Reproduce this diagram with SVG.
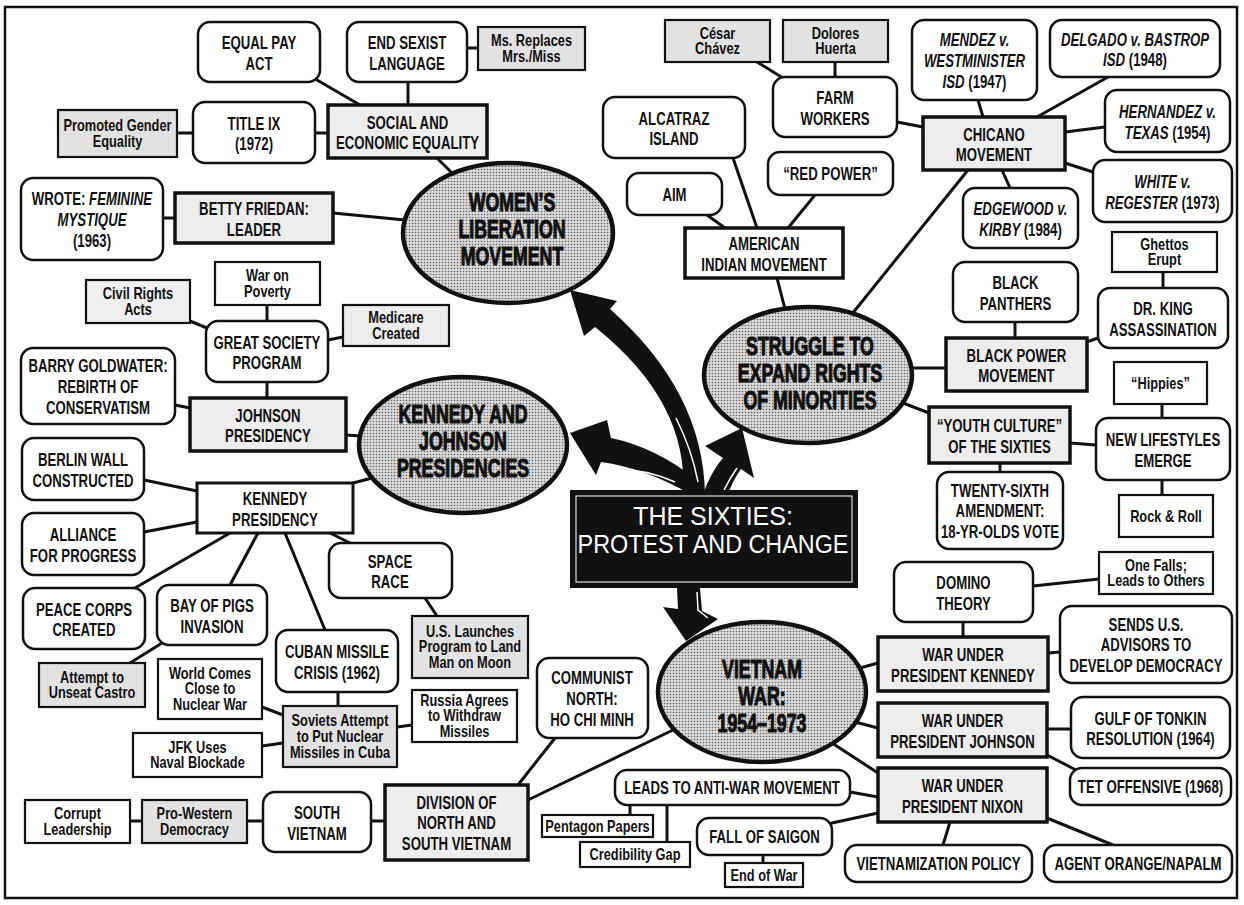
<svg xmlns="http://www.w3.org/2000/svg" width="1244" height="905" viewBox="0 0 1244 905">
<defs>
<pattern id="dots" width="3" height="3" patternUnits="userSpaceOnUse"><rect width="3" height="3" fill="#d8d8d8"/><circle cx="1.5" cy="1.5" r="0.8" fill="#666"/></pattern>
<style>
.c line{stroke:#111;stroke-width:3;stroke-linecap:round}
.rb{fill:#fff;stroke:#111;stroke-width:2.5}
.hb{fill:#ededed;stroke:#111;stroke-width:3.5}
.nb{fill:#fff;stroke:#111;stroke-width:2.2}
.ng{fill:#e2e2e2;stroke:#111;stroke-width:2.2}
.el{fill:url(#dots);stroke:#111;stroke-width:4.5}
.ar{fill:#111}
.hl{fill:none;stroke:#fff;stroke-width:1.5}
text.t{font-family:"Liberation Sans",Arial,sans-serif;font-weight:700;font-size:19px;text-anchor:middle;fill:#111}
text.s{font-size:16px}
text.e{font-size:25px;font-weight:900;stroke:#111;stroke-width:1.1}
text.w{font-weight:400;font-size:25px;fill:#fff}
.i{font-style:italic}
</style>
</defs>
<rect x="0" y="0" width="1244" height="905" fill="#fff"/>
<rect x="5" y="7" width="1232" height="891" fill="none" stroke="#111" stroke-width="2.5"/>

<g id="connectors" class="c">
<line x1="317" y1="80" x2="360" y2="105"/>
<line x1="408" y1="82" x2="408" y2="105"/>
<line x1="467" y1="48" x2="478" y2="48"/>
<line x1="177" y1="133" x2="193" y2="133"/>
<line x1="315" y1="133" x2="328" y2="133"/>
<line x1="437" y1="158" x2="455" y2="176"/>
<line x1="163" y1="218" x2="175" y2="218"/>
<line x1="333" y1="213" x2="405" y2="220"/>
<line x1="190" y1="321" x2="207" y2="328"/>
<line x1="267" y1="305" x2="267" y2="321"/>
<line x1="328" y1="340" x2="343" y2="337"/>
<line x1="267" y1="382" x2="267" y2="398"/>
<line x1="175" y1="405" x2="190" y2="408"/>
<line x1="346" y1="435" x2="361" y2="436"/>
<line x1="144" y1="480" x2="197" y2="491"/>
<line x1="144" y1="532" x2="197" y2="522"/>
<line x1="353" y1="483" x2="372" y2="478"/>
<line x1="230" y1="533" x2="135" y2="588"/>
<line x1="258" y1="533" x2="230" y2="585"/>
<line x1="285" y1="533" x2="325" y2="630"/>
<line x1="330" y1="533" x2="350" y2="543"/>
<line x1="162" y1="643" x2="130" y2="663"/>
<line x1="338" y1="692" x2="338" y2="706"/>
<line x1="262" y1="707" x2="283" y2="715"/>
<line x1="262" y1="746" x2="283" y2="743"/>
<line x1="397" y1="727" x2="412" y2="725"/>
<line x1="425" y1="598" x2="437" y2="616"/>
<line x1="130" y1="821" x2="142" y2="821"/>
<line x1="247" y1="821" x2="263" y2="821"/>
<line x1="371" y1="821" x2="385" y2="821"/>
<line x1="555" y1="738" x2="518" y2="785"/>
<line x1="528" y1="800" x2="673" y2="730"/>
<line x1="860" y1="668" x2="878" y2="663"/>
<line x1="855" y1="722" x2="878" y2="728"/>
<line x1="832" y1="743" x2="878" y2="773"/>
<line x1="963" y1="622" x2="963" y2="637"/>
<line x1="1033" y1="586" x2="1099" y2="579"/>
<line x1="1048" y1="653" x2="1060" y2="652"/>
<line x1="1047" y1="729" x2="1071" y2="729"/>
<line x1="1047" y1="755" x2="1076" y2="770"/>
<line x1="850" y1="792" x2="878" y2="797"/>
<line x1="832" y1="823" x2="878" y2="813"/>
<line x1="950" y1="822" x2="943" y2="845"/>
<line x1="1047" y1="818" x2="1113" y2="845"/>
<line x1="630" y1="805" x2="630" y2="815"/>
<line x1="667" y1="805" x2="667" y2="842"/>
<line x1="763" y1="855" x2="763" y2="863"/>
<line x1="912" y1="368" x2="946" y2="368"/>
<line x1="903" y1="403" x2="929" y2="413"/>
<line x1="1015" y1="322" x2="1015" y2="338"/>
<line x1="1087" y1="342" x2="1098" y2="338"/>
<line x1="1163" y1="272" x2="1163" y2="288"/>
<line x1="1070" y1="443" x2="1096" y2="445"/>
<line x1="1162" y1="404" x2="1162" y2="418"/>
<line x1="1162" y1="480" x2="1162" y2="495"/>
<line x1="1000" y1="463" x2="1000" y2="472"/>
<line x1="777" y1="278" x2="785" y2="309"/>
<line x1="707" y1="215" x2="725" y2="228"/>
<line x1="733" y1="158" x2="757" y2="228"/>
<line x1="815" y1="195" x2="788" y2="228"/>
<line x1="757" y1="62" x2="783" y2="78"/>
<line x1="835" y1="62" x2="835" y2="77"/>
<line x1="897" y1="122" x2="923" y2="127"/>
<line x1="978" y1="100" x2="983" y2="117"/>
<line x1="1108" y1="77" x2="1037" y2="117"/>
<line x1="1065" y1="132" x2="1105" y2="127"/>
<line x1="1065" y1="163" x2="1093" y2="172"/>
<line x1="1002" y1="170" x2="1010" y2="188"/>
<line x1="968" y1="170" x2="852" y2="314"/>
</g>

<!-- Women's section -->
<g id="equal-pay"><rect class="rb" x="198" y="22" width="122" height="60" rx="12"/><text class="t" transform="translate(259,49) scale(.695 1)"><tspan x="0">EQUAL PAY</tspan><tspan x="0" dy="21">ACT</tspan></text></g>
<g id="end-sexist"><rect class="rb" x="347" y="22" width="120" height="60" rx="12"/><text class="t" transform="translate(407,49) scale(.695 1)"><tspan x="0">END SEXIST</tspan><tspan x="0" dy="21">LANGUAGE</tspan></text></g>
<g id="ms-replaces"><rect class="ng" x="478" y="27" width="107" height="43"/><text class="t s" transform="translate(531.5,46) scale(.8 1)"><tspan x="0">Ms. Replaces</tspan><tspan x="0" dy="16">Mrs./Miss</tspan></text></g>
<g id="social-economic"><rect class="hb" x="328" y="105" width="159" height="53"/><text class="t" transform="translate(407.5,128.5) scale(.695 1)"><tspan x="0">SOCIAL AND</tspan><tspan x="0" dy="21">ECONOMIC EQUALITY</tspan></text></g>
<g id="title-ix"><rect class="rb" x="193" y="102" width="122" height="61" rx="12"/><text class="t" transform="translate(254,129.5) scale(.695 1)"><tspan x="0">TITLE IX</tspan><tspan x="0" dy="21">(1972)</tspan></text></g>
<g id="promoted-gender"><rect class="ng" x="58" y="110" width="119" height="47"/><text class="t s" transform="translate(117.5,131) scale(.8 1)"><tspan x="0">Promoted Gender</tspan><tspan x="0" dy="16">Equality</tspan></text></g>
<g id="feminine-mystique"><rect class="rb" x="21" y="178" width="142" height="82" rx="12"/><text class="t" transform="translate(92,205) scale(.695 1)"><tspan x="0">WROTE: <tspan class="i">FEMININE</tspan></tspan><tspan x="0" dy="21" class="i">MYSTIQUE</tspan><tspan x="0" dy="21">(1963)</tspan></text></g>
<g id="betty-friedan"><rect class="hb" x="175" y="193" width="158" height="50"/><text class="t" transform="translate(254,215) scale(.695 1)"><tspan x="0">BETTY FRIEDAN:</tspan><tspan x="0" dy="21">LEADER</tspan></text></g>

<!-- Kennedy & Johnson section -->
<g id="war-on-poverty"><rect class="nb" x="215" y="262" width="105" height="43"/><text class="t s" transform="translate(267.5,281) scale(.8 1)"><tspan x="0">War on</tspan><tspan x="0" dy="16">Poverty</tspan></text></g>
<g id="civil-rights"><rect class="ng" x="86" y="280" width="104" height="43" style="fill:#efefef"/><text class="t s" transform="translate(138,299) scale(.8 1)"><tspan x="0">Civil Rights</tspan><tspan x="0" dy="16">Acts</tspan></text></g>
<g id="medicare"><rect class="ng" x="343" y="305" width="106" height="41" style="fill:#ececec"/><text class="t s" transform="translate(396,323) scale(.8 1)"><tspan x="0">Medicare</tspan><tspan x="0" dy="16">Created</tspan></text></g>
<g id="great-society"><rect class="rb" x="206" y="321" width="122" height="61" rx="12"/><text class="t" transform="translate(267,348.5) scale(.695 1)"><tspan x="0">GREAT SOCIETY</tspan><tspan x="0" dy="21">PROGRAM</tspan></text></g>
<g id="goldwater"><rect class="rb" x="21" y="348" width="154" height="76" rx="12"/><text class="t" transform="translate(98,372) scale(.695 1)"><tspan x="0">BARRY GOLDWATER:</tspan><tspan x="0" dy="21">REBIRTH OF</tspan><tspan x="0" dy="21">CONSERVATISM</tspan></text></g>
<g id="johnson-presidency"><rect class="hb" x="190" y="398" width="156" height="53"/><text class="t" transform="translate(268,421.5) scale(.695 1)"><tspan x="0">JOHNSON</tspan><tspan x="0" dy="21">PRESIDENCY</tspan></text></g>
<g id="berlin-wall"><rect class="rb" x="22" y="438" width="122" height="62" rx="12"/><text class="t" transform="translate(83,466) scale(.695 1)"><tspan x="0">BERLIN WALL</tspan><tspan x="0" dy="21">CONSTRUCTED</tspan></text></g>
<g id="kennedy-presidency"><rect class="hb" x="197" y="483" width="156" height="50" style="fill:#fff;stroke-width:3"/><text class="t" transform="translate(275,505) scale(.695 1)"><tspan x="0">KENNEDY</tspan><tspan x="0" dy="21">PRESIDENCY</tspan></text></g>
<g id="alliance"><rect class="rb" x="22" y="513" width="122" height="62" rx="12"/><text class="t" transform="translate(83,541) scale(.695 1)"><tspan x="0">ALLIANCE</tspan><tspan x="0" dy="21">FOR PROGRESS</tspan></text></g>
<g id="peace-corps"><rect class="rb" x="23" y="588" width="122" height="61" rx="12"/><text class="t" transform="translate(84,615.5) scale(.695 1)"><tspan x="0">PEACE CORPS</tspan><tspan x="0" dy="21">CREATED</tspan></text></g>
<g id="bay-of-pigs"><rect class="rb" x="157" y="585" width="110" height="60" rx="12"/><text class="t" transform="translate(212,612) scale(.695 1)"><tspan x="0">BAY OF PIGS</tspan><tspan x="0" dy="21">INVASION</tspan></text></g>
<g id="space-race"><rect class="rb" x="329" y="543" width="123" height="55" rx="12"/><text class="t" transform="translate(390,567.5) scale(.695 1)"><tspan x="0">SPACE</tspan><tspan x="0" dy="21">RACE</tspan></text></g>
<g id="us-launches"><rect class="ng" x="412" y="616" width="116" height="62"/><text class="t s" transform="translate(470,636.5) scale(.8 1)"><tspan x="0">U.S. Launches</tspan><tspan x="0" dy="16">Program to Land</tspan><tspan x="0" dy="16">Man on Moon</tspan></text></g>
<g id="cuban-missile"><rect class="rb" x="276" y="630" width="122" height="62" rx="12"/><text class="t" transform="translate(337,658) scale(.695 1)"><tspan x="0">CUBAN MISSILE</tspan><tspan x="0" dy="21">CRISIS (1962)</tspan></text></g>
<g id="attempt-castro"><rect class="ng" x="39" y="663" width="106" height="44"/><text class="t s" transform="translate(92,682.5) scale(.8 1)"><tspan x="0">Attempt to</tspan><tspan x="0" dy="16">Unseat Castro</tspan></text></g>
<g id="world-comes"><rect class="nb" x="158" y="659" width="104" height="60"/><text class="t s" transform="translate(210,678.5) scale(.8 1)"><tspan x="0">World Comes</tspan><tspan x="0" dy="16">Close to</tspan><tspan x="0" dy="16">Nuclear War</tspan></text></g>
<g id="soviets-attempt"><rect class="ng" x="283" y="706" width="114" height="61"/><text class="t s" transform="translate(340,726) scale(.8 1)"><tspan x="0">Soviets Attempt</tspan><tspan x="0" dy="16">to Put Nuclear</tspan><tspan x="0" dy="16">Missiles in Cuba</tspan></text></g>
<g id="jfk-blockade"><rect class="nb" x="133" y="733" width="129" height="44"/><text class="t s" transform="translate(197.5,752.5) scale(.8 1)"><tspan x="0">JFK Uses</tspan><tspan x="0" dy="16">Naval Blockade</tspan></text></g>
<g id="russia-agrees"><rect class="nb" x="412" y="690" width="105" height="52"/><text class="t s" transform="translate(464.5,705.5) scale(.8 1)"><tspan x="0">Russia Agrees</tspan><tspan x="0" dy="16">to Withdraw</tspan><tspan x="0" dy="16">Missiles</tspan></text></g>

<!-- Vietnam left -->
<g id="corrupt"><rect class="nb" x="25" y="800" width="105" height="43"/><text class="t s" transform="translate(77.5,819) scale(.8 1)"><tspan x="0">Corrupt</tspan><tspan x="0" dy="16">Leadership</tspan></text></g>
<g id="pro-western"><rect class="ng" x="142" y="800" width="105" height="43"/><text class="t s" transform="translate(194.5,819) scale(.8 1)"><tspan x="0">Pro-Western</tspan><tspan x="0" dy="16">Democracy</tspan></text></g>
<g id="south-vietnam"><rect class="rb" x="263" y="792" width="108" height="60" rx="12"/><text class="t" transform="translate(317,819) scale(.695 1)"><tspan x="0">SOUTH</tspan><tspan x="0" dy="21">VIETNAM</tspan></text></g>
<g id="division"><rect class="hb" x="385" y="785" width="143" height="75"/><text class="t" transform="translate(456.5,808.5) scale(.695 1)"><tspan x="0">DIVISION OF</tspan><tspan x="0" dy="21">NORTH AND</tspan><tspan x="0" dy="21">SOUTH VIETNAM</tspan></text></g>
<g id="communist-north"><rect class="rb" x="537" y="658" width="111" height="80" rx="12"/><text class="t" transform="translate(592,684) scale(.695 1)"><tspan x="0">COMMUNIST</tspan><tspan x="0" dy="21">NORTH:</tspan><tspan x="0" dy="21">HO CHI MINH</tspan></text></g>
<g id="anti-war"><rect class="rb" x="615" y="770" width="235" height="35" rx="12"/><text class="t" transform="translate(732,794) scale(.695 1)">LEADS TO ANTI-WAR MOVEMENT</text></g>
<g id="pentagon"><rect class="nb" x="542" y="815" width="111" height="22"/><text class="t s" transform="translate(597.5,831.5) scale(.8 1)">Pentagon Papers</text></g>
<g id="credibility"><rect class="nb" x="580" y="842" width="110" height="25"/><text class="t s" transform="translate(635,860) scale(.8 1)">Credibility Gap</text></g>
<g id="fall-saigon"><rect class="rb" x="697" y="818" width="135" height="37" rx="12"/><text class="t" transform="translate(764.5,843) scale(.695 1)">FALL OF SAIGON</text></g>
<g id="end-of-war"><rect class="nb" x="725" y="863" width="78" height="24"/><text class="t s" transform="translate(764,880.5) scale(.8 1)">End of War</text></g>

<!-- Minorities section -->
<g id="cesar"><rect class="ng" x="665" y="20" width="105" height="42"/><text class="t s" transform="translate(717.5,38.5) scale(.8 1)"><tspan x="0">César</tspan><tspan x="0" dy="16">Chávez</tspan></text></g>
<g id="dolores"><rect class="ng" x="783" y="20" width="105" height="42"/><text class="t s" transform="translate(835.5,38.5) scale(.8 1)"><tspan x="0">Dolores</tspan><tspan x="0" dy="16">Huerta</tspan></text></g>
<g id="farm-workers"><rect class="rb" x="773" y="77" width="124" height="60" rx="12"/><text class="t" transform="translate(835,104) scale(.695 1)"><tspan x="0">FARM</tspan><tspan x="0" dy="21">WORKERS</tspan></text></g>
<g id="alcatraz"><rect class="rb" x="603" y="97" width="142" height="61" rx="12"/><text class="t" transform="translate(674,124.5) scale(.695 1)"><tspan x="0">ALCATRAZ</tspan><tspan x="0" dy="21">ISLAND</tspan></text></g>
<g id="aim"><rect class="rb" x="627" y="173" width="95" height="42" rx="12"/><text class="t" transform="translate(674.5,200.5) scale(.695 1)">AIM</text></g>
<g id="red-power"><rect class="rb" x="768" y="152" width="125" height="43" rx="12"/><text class="t" transform="translate(830.5,180) scale(.695 1)">“RED POWER”</text></g>
<g id="american-indian"><rect class="hb" x="685" y="228" width="158" height="50" style="fill:#fff"/><text class="t" transform="translate(764,250) scale(.695 1)"><tspan x="0">AMERICAN</tspan><tspan x="0" dy="21">INDIAN MOVEMENT</tspan></text></g>
<g id="mendez"><rect class="rb" x="912" y="20" width="125" height="80" rx="12"/><text class="t i" transform="translate(974.5,46) scale(.695 1)"><tspan x="0">MENDEZ v.</tspan><tspan x="0" dy="21">WESTMINISTER</tspan><tspan x="0" dy="21">ISD <tspan style="font-style:normal">(1947)</tspan></tspan></text></g>
<g id="delgado"><rect class="rb" x="1050" y="20" width="170" height="57" rx="12"/><text class="t i" transform="translate(1135,45.5) scale(.695 1)"><tspan x="0">DELGADO v. BASTROP</tspan><tspan x="0" dy="21">ISD <tspan style="font-style:normal">(1948)</tspan></tspan></text></g>
<g id="chicano"><rect class="hb" x="923" y="117" width="142" height="53"/><text class="t" transform="translate(994,140.5) scale(.695 1)"><tspan x="0">CHICANO</tspan><tspan x="0" dy="21">MOVEMENT</tspan></text></g>
<g id="hernandez"><rect class="rb" x="1105" y="90" width="125" height="62" rx="12"/><text class="t i" transform="translate(1167.5,118) scale(.695 1)"><tspan x="0">HERNANDEZ v.</tspan><tspan x="0" dy="21">TEXAS <tspan style="font-style:normal">(1954)</tspan></tspan></text></g>
<g id="white-regester"><rect class="rb" x="1093" y="160" width="139" height="62" rx="12"/><text class="t i" transform="translate(1162.5,188) scale(.695 1)"><tspan x="0">WHITE v.</tspan><tspan x="0" dy="21">REGESTER <tspan style="font-style:normal">(1973)</tspan></tspan></text></g>
<g id="edgewood"><rect class="rb" x="963" y="188" width="115" height="60" rx="12"/><text class="t i" transform="translate(1020.5,215) scale(.695 1)"><tspan x="0">EDGEWOOD v.</tspan><tspan x="0" dy="21">KIRBY <tspan style="font-style:normal">(1984)</tspan></tspan></text></g>
<g id="ghettos"><rect class="nb" x="1112" y="232" width="105" height="40"/><text class="t s" transform="translate(1164.5,249.5) scale(.8 1)"><tspan x="0">Ghettos</tspan><tspan x="0" dy="16">Erupt</tspan></text></g>
<g id="black-panthers"><rect class="rb" x="953" y="262" width="125" height="60" rx="12"/><text class="t" transform="translate(1015.5,289) scale(.695 1)"><tspan x="0">BLACK</tspan><tspan x="0" dy="21">PANTHERS</tspan></text></g>
<g id="dr-king"><rect class="rb" x="1098" y="288" width="130" height="60" rx="12"/><text class="t" transform="translate(1163,315) scale(.695 1)"><tspan x="0">DR. KING</tspan><tspan x="0" dy="21">ASSASSINATION</tspan></text></g>
<g id="black-power"><rect class="hb" x="946" y="338" width="141" height="53"/><text class="t" transform="translate(1016.5,361.5) scale(.695 1)"><tspan x="0">BLACK POWER</tspan><tspan x="0" dy="21">MOVEMENT</tspan></text></g>
<g id="hippies"><rect class="nb" x="1114" y="362" width="93" height="42"/><text class="t s" transform="translate(1160.5,388.5) scale(.8 1)">“Hippies”</text></g>
<g id="youth-culture"><rect class="hb" x="929" y="407" width="141" height="56"/><text class="t" transform="translate(999.5,432) scale(.695 1)"><tspan x="0">“YOUTH CULTURE”</tspan><tspan x="0" dy="21">OF THE SIXTIES</tspan></text></g>
<g id="new-lifestyles"><rect class="rb" x="1096" y="418" width="134" height="62" rx="12"/><text class="t" transform="translate(1163,446) scale(.695 1)"><tspan x="0">NEW LIFESTYLES</tspan><tspan x="0" dy="21">EMERGE</tspan></text></g>
<g id="twenty-sixth"><rect class="rb" x="937" y="472" width="126" height="77" rx="12"/><text class="t" transform="translate(1000,496.5) scale(.695 1)"><tspan x="0">TWENTY-SIXTH</tspan><tspan x="0" dy="21">AMENDMENT:</tspan><tspan x="0" dy="21">18-YR-OLDS VOTE</tspan></text></g>
<g id="rock-roll"><rect class="nb" x="1119" y="495" width="94" height="42"/><text class="t s" transform="translate(1166,521.5) scale(.8 1)">Rock &amp; Roll</text></g>

<!-- Vietnam right -->
<g id="one-falls"><rect class="nb" x="1099" y="552" width="114" height="42"/><text class="t s" transform="translate(1156,570.5) scale(.8 1)"><tspan x="0">One Falls;</tspan><tspan x="0" dy="16">Leads to Others</tspan></text></g>
<g id="domino"><rect class="rb" x="894" y="562" width="139" height="60" rx="12"/><text class="t" transform="translate(963.5,589) scale(.695 1)"><tspan x="0">DOMINO</tspan><tspan x="0" dy="21">THEORY</tspan></text></g>
<g id="sends-advisors"><rect class="rb" x="1060" y="606" width="172" height="77" rx="12"/><text class="t" transform="translate(1146,630.5) scale(.695 1)"><tspan x="0">SENDS U.S.</tspan><tspan x="0" dy="21">ADVISORS TO</tspan><tspan x="0" dy="21">DEVELOP DEMOCRACY</tspan></text></g>
<g id="war-kennedy"><rect class="hb" x="878" y="637" width="170" height="54"/><text class="t" transform="translate(963,661) scale(.695 1)"><tspan x="0">WAR UNDER</tspan><tspan x="0" dy="21">PRESIDENT KENNEDY</tspan></text></g>
<g id="war-johnson"><rect class="hb" x="878" y="703" width="169" height="54"/><text class="t" transform="translate(962.5,727) scale(.695 1)"><tspan x="0">WAR UNDER</tspan><tspan x="0" dy="21">PRESIDENT JOHNSON</tspan></text></g>
<g id="gulf-tonkin"><rect class="rb" x="1071" y="697" width="159" height="61" rx="12"/><text class="t" transform="translate(1150.5,724.5) scale(.695 1)"><tspan x="0">GULF OF TONKIN</tspan><tspan x="0" dy="21">RESOLUTION (1964)</tspan></text></g>
<g id="tet"><rect class="rb" x="1070" y="768" width="161" height="37" rx="12"/><text class="t" transform="translate(1150.5,793) scale(.695 1)">TET OFFENSIVE (1968)</text></g>
<g id="war-nixon"><rect class="hb" x="878" y="768" width="169" height="54"/><text class="t" transform="translate(962.5,792) scale(.695 1)"><tspan x="0">WAR UNDER</tspan><tspan x="0" dy="21">PRESIDENT NIXON</tspan></text></g>
<g id="vietnamization"><rect class="rb" x="845" y="845" width="187" height="37" rx="12"/><text class="t" transform="translate(938.5,870) scale(.695 1)">VIETNAMIZATION POLICY</text></g>
<g id="agent-orange"><rect class="rb" x="1044" y="845" width="188" height="37" rx="12"/><text class="t" transform="translate(1138,870) scale(.695 1)">AGENT ORANGE/NAPALM</text></g>

<!-- main topic ellipses -->
<g id="womens-liberation"><ellipse class="el" cx="508" cy="233" rx="105" ry="70"/><text class="t e" transform="translate(512,211) scale(.71 1)"><tspan x="0">WOMEN’S</tspan><tspan x="0" dy="27">LIBERATION</tspan><tspan x="0" dy="27">MOVEMENT</tspan></text></g>
<g id="kennedy-johnson"><ellipse class="el" cx="463" cy="445" rx="104" ry="68"/><text class="t e" transform="translate(463,423) scale(.71 1)"><tspan x="0">KENNEDY AND</tspan><tspan x="0" dy="27">JOHNSON</tspan><tspan x="0" dy="27">PRESIDENCIES</tspan></text></g>
<g id="struggle-minorities"><ellipse class="el" cx="808" cy="375" rx="104" ry="68"/><text class="t e" transform="translate(810,355) scale(.71 1)"><tspan x="0">STRUGGLE TO</tspan><tspan x="0" dy="27">EXPAND RIGHTS</tspan><tspan x="0" dy="27">OF MINORITIES</tspan></text></g>
<g id="vietnam-war"><ellipse class="el" cx="762" cy="692" rx="104" ry="70"/><text class="t e" transform="translate(762,678) scale(.71 1)"><tspan x="0">VIETNAM</tspan><tspan x="0" dy="27">WAR:</tspan><tspan x="0" dy="27">1954–1973</tspan></text></g>

<!-- thick arrows from centre -->
<g id="arrows">
<path class="ar" d="M570,290 L617,301 L610,309 Q703,391 705,494 L683,494 Q689,402 595,327 L584,336 Z"/>
<path class="hl" d="M676,418 Q692,450 698,482"/>
<path class="ar" d="M570,433 L607,420 L611,438 Q655,447 697,480 L690,494 Q645,468 601,462 L596,475 Z"/>
<path class="hl" d="M600,470 Q640,466 675,482"/>
<path class="ar" d="M742,428 L754,478 L741,469 Q733,480 728,494 L703,494 Q712,470 723,458 L705,446 Z"/>
<path class="hl" d="M737,468 Q730,478 724,490"/>
<path class="ar" d="M677,588 L700,588 L702,611 L718,619 L686,641 L663,607 L678,609 Z"/>
<path class="hl" d="M697,592 L698,610 L708,618"/>
</g>

<g id="the-sixties">
<rect x="570" y="490" width="288" height="98" fill="#111"/>
<rect x="576" y="496" width="276" height="86" fill="none" stroke="#ddd" stroke-width="1.2"/>
<text class="t w" transform="translate(713,525)">THE SIXTIES:</text>
<text class="t w" transform="translate(713,553) scale(.935 1)">PROTEST AND CHANGE</text>
</g>
</svg>
